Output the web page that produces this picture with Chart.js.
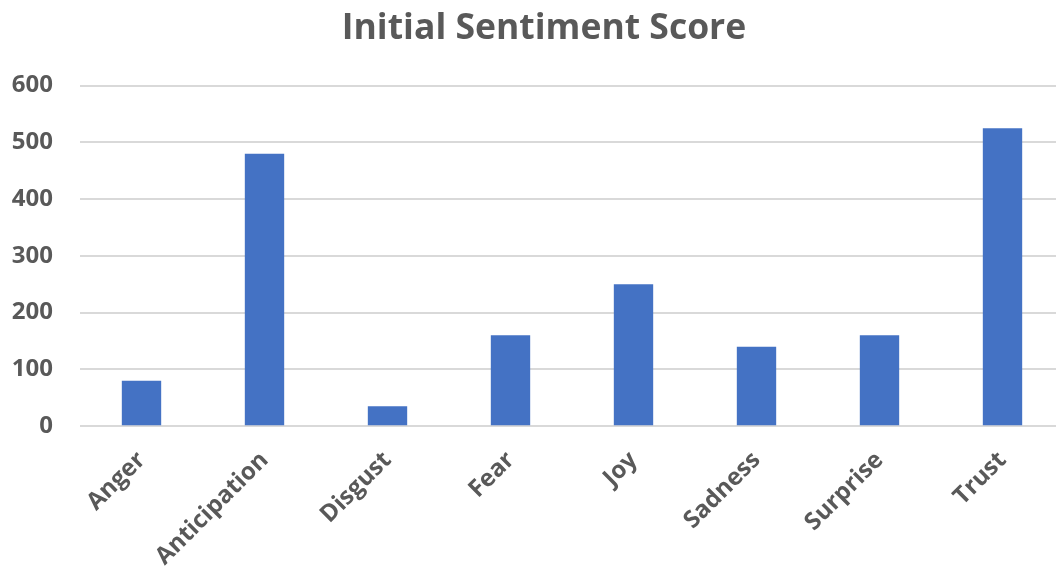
<!DOCTYPE html>
<html>
<head>
<meta charset="utf-8">
<script src="https://cdn.jsdelivr.net/npm/chart.js@4"></script>
<style>
  html, body { margin: 0; padding: 0; background: #fff; overflow: hidden; }
  #wrap { width: 1088px; height: 583px; }
</style>
</head>
<body>
<div id="wrap"><canvas id="chart"></canvas></div>
<script>
const emotions = ['Anger', 'Anticipation', 'Disgust', 'Fear', 'Joy', 'Sadness', 'Surprise', 'Trust']
const scores = [80, 480, 35, 160, 250, 140, 160, 525]
const yTicks = [0, 100, 200, 300, 400, 500, 600]

const grey = '#595959'
const font = '"Open Sans", sans-serif'

let ctx = document.getElementById('chart')

// nudge the title so it sits over the middle of the plot
const titleShift = {
    id: 'titleShift',
    afterLayout(chart) {
        if (chart.titleBlock) chart.titleBlock.left += 12
    }
}

new Chart(ctx, {
    type: 'bar',
    data: {
        labels: emotions,
        datasets: [{
            label: 'Initial Sentiment Score',
            data: scores,
            backgroundColor: '#4472C4',
            borderWidth: 0,
            barPercentage: 0.32,
            categoryPercentage: 1
        }]
    },
    plugins: [titleShift],
    options: {
        responsive: true,
        maintainAspectRatio: false,
        animation: false,
        layout: {
            padding: { left: 12, right: 24, top: 8, bottom: 0 }
        },
        plugins: {
            legend: { display: false },
            tooltip: { enabled: false },
            title: {
                display: true,
                text: 'Initial Sentiment Score',
                color: grey,
                font: { family: font, size: 35.5, weight: 'bold' },
                padding: { top: 0, bottom: 35 }
            }
        },
        scales: {
            x: {
                grid: { display: false },
                border: { display: false },
                // rotated labels shouldn't push the plot sideways
                afterFit: (scale) => {
                    scale.paddingLeft = 0
                    scale.paddingRight = 0
                },
                ticks: {
                    color: grey,
                    font: { family: font, size: 24, weight: 'bold' },
                    minRotation: 45,
                    maxRotation: 45,
                    padding: 12
                }
            },
            y: {
                min: 0,
                max: 600,
                afterBuildTicks: (axis) => {
                    axis.ticks = yTicks.map(v => ({ value: v }))
                },
                afterFit: (scale) => {
                    scale.width = 68
                },
                grid: { color: '#d9d9d9', lineWidth: 2, drawTicks: false },
                border: { display: false },
                ticks: {
                    color: grey,
                    font: { family: font, size: 24, weight: 'bold' },
                    padding: 27
                }
            }
        }
    }
})
</script>
</body>
</html>
